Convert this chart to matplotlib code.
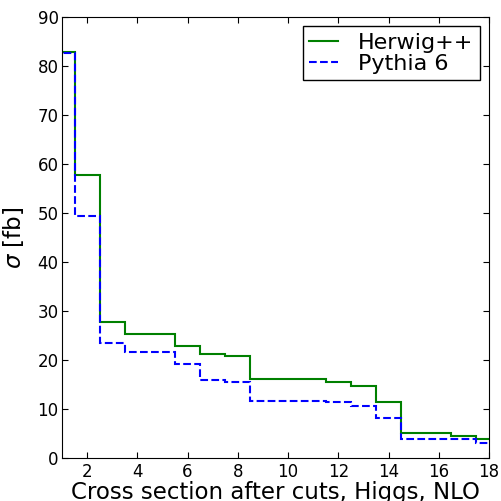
import matplotlib
matplotlib.use("Agg")
import matplotlib.pyplot as plt
import numpy as np

# bin centres 1..18, edges at half integers
bin_edges = np.arange(0.5, 19.0, 1.0)
herwig = [82.9, 57.8, 27.8, 25.3, 25.3, 22.9, 21.2, 20.8, 16.1, 16.1, 16.1,
          15.6, 14.6, 11.4, 5.2, 5.2, 4.5, 3.9]
pythia = [82.7, 49.4, 23.5, 21.6, 21.6, 19.2, 15.9, 15.5, 11.7, 11.7, 11.7,
          11.4, 10.6, 8.2, 3.9, 3.9, 3.9, 3.0]

plt.rcParams['xtick.direction'] = 'in'
plt.rcParams['ytick.direction'] = 'in'
plt.rcParams['xtick.top'] = True
plt.rcParams['ytick.right'] = True
plt.rcParams['xtick.major.size'] = 4
plt.rcParams['ytick.major.size'] = 4

fig = plt.figure(figsize=(5.02, 5.01), dpi=100)
ax = fig.add_axes([62 / 502, 1 - 458 / 501, 427 / 502, 441 / 501])

ax.stairs(herwig, bin_edges, color='g', lw=1.5, label='Herwig++')
ax.stairs(pythia, bin_edges, color='b', lw=1.5, ls='--', label='Pythia 6')

ax.set_xlim(1, 18)
ax.set_ylim(0, 90)
ax.set_xticks(np.arange(2, 19, 2))
ax.set_yticks(np.arange(0, 91, 10))
ax.tick_params(labelsize=12)
ax.tick_params(axis='y', pad=2.5)
ax.set_xlabel('Cross section after cuts, Higgs, NLO', fontsize=16.5, labelpad=0)
ax.set_ylabel(r'$\sigma$ [fb]', fontsize=16.5, labelpad=8)

leg = ax.legend(loc='upper right', fontsize=16, fancybox=False, framealpha=1,
                borderaxespad=0.4, handlelength=1.3, handletextpad=0.9,
                labelspacing=0.05, borderpad=0.3)
leg.get_frame().set_edgecolor('black')

fig.savefig('out.png', dpi=100)
